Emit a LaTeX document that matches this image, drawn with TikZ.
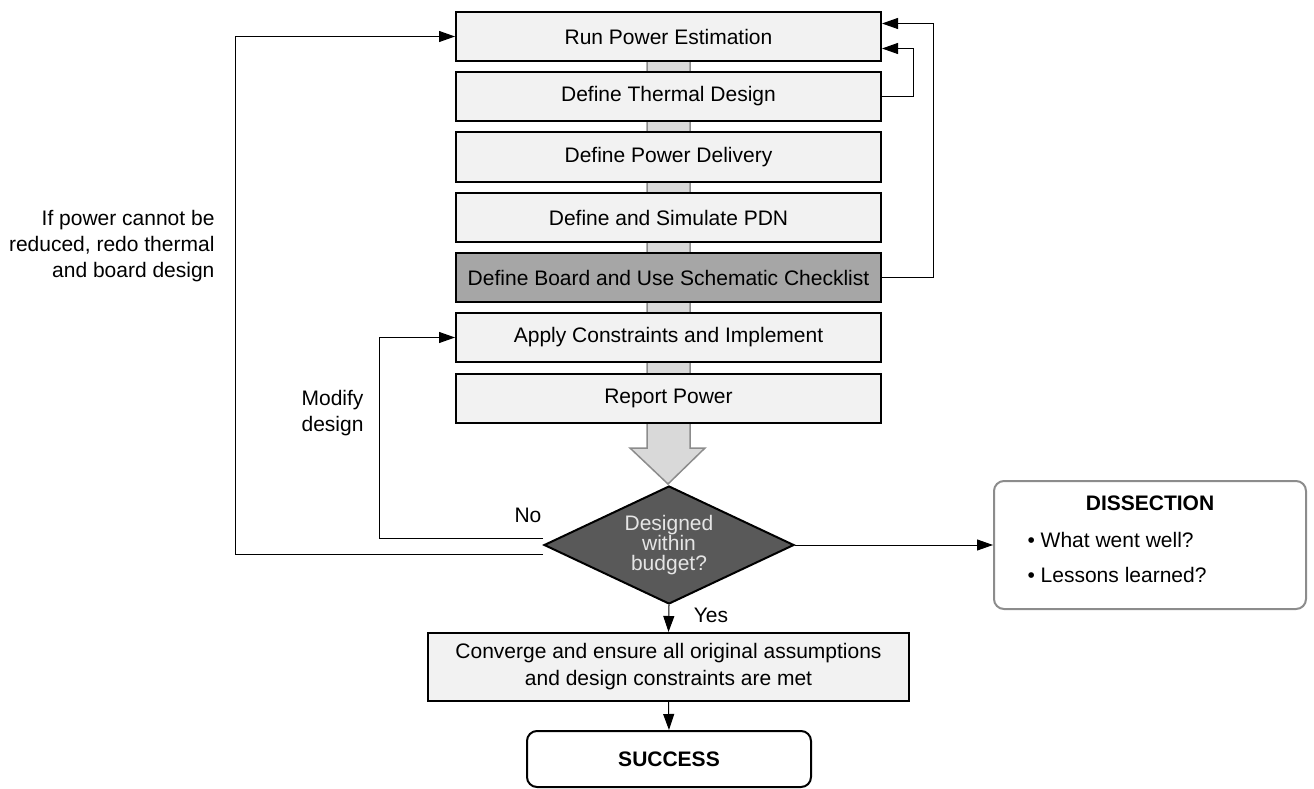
\documentclass[tikz,border=0pt]{standalone}
\usepackage{fontspec}
\setmainfont{Liberation Sans}
\usetikzlibrary{shapes.geometric,arrows.meta,positioning}

\definecolor{boxfill}{HTML}{F2F2F2}
\definecolor{boardfill}{HTML}{A6A6A6}
\definecolor{decfill}{HTML}{595959}
\definecolor{shaftfill}{HTML}{D9D9D9}
\definecolor{shaftline}{HTML}{8C8C8C}
\definecolor{notefill}{HTML}{FFFFFF}

\tikzset{
    stepbox/.style={draw, line width=2pt, fill=boxfill, minimum width=425pt, minimum height=49pt, inner sep=0pt},
    flow/.style={line width=1pt, -{Triangle[length=16pt,width=11pt]}},
    txt/.style={font=\fontsize{21}{26}\selectfont},
}

\begin{document}
\begin{tikzpicture}[x=1pt,y=-1pt,txt]
    \useasboundingbox (0,0) rectangle (1314,789);

    \draw[fill=shaftfill, draw=shaftline, line width=1.5pt]
        (647,55) -- (647,448) -- (630,448) -- (668,484) -- (705,448) -- (690,448) -- (690,55) -- cycle;

    \node[stepbox]                  (est)    at (668.5,36.5)  {Run Power Estimation};
    \node[stepbox]                  (therm)  at (668.5,96.5)  {Define Thermal Design};
    \node[stepbox]                  (deliv)  at (668.5,157)   {Define Power Delivery};
    \node[stepbox]                  (pdn)    at (668.5,217.5) {Define and Simulate PDN};
    \node[stepbox, fill=boardfill]  (board)  at (668.5,277.5) {Define Board and Use Schematic Checklist};
    \node[stepbox]                  (impl)   at (668.5,337.5) {Apply Constraints and Implement};
    \node[stepbox]                  (report) at (668.5,398.5) {Report Power};

    \node[diamond, draw, line width=2pt, fill=decfill, text=white!90!black, aspect=2.1,
          minimum width=250pt, minimum height=118pt, inner sep=0pt, align=center,
          font=\fontsize{21}{20}\selectfont] (budget) at (669,545) {Designed\\within\\budget?};

    \node[stepbox, minimum width=481pt, minimum height=68pt, align=center,
          font=\fontsize{21}{27}\selectfont] (conv) at (668.5,667)
          {Converge and ensure all original assumptions\\and design constraints are met};
    \node[draw, line width=2pt, rounded corners=10pt, minimum width=284pt, minimum height=56pt,
          font=\fontsize{21}{26}\selectfont\bfseries] (done) at (669,759) {SUCCESS};

    \node[draw=shaftline, line width=2pt, rounded corners=10pt, fill=notefill,
          minimum width=312pt, minimum height=128pt] (dissect) at (1150,545) {};
    \node[font=\fontsize{21}{26}\selectfont\bfseries] (dtitle) at (1150,503) {DISSECTION};
    \node[anchor=west, align=left, font=\fontsize{21}{35}\selectfont] (dlist) at (1024,557)
          {\textbullet\ What went well?\\\textbullet\ Lessons learned?};

    \draw[flow] (therm.east) -- ++(31,0) |- ([yshift=-12pt]est.east);
    \draw[flow] (board.east) -- ++(51,0) |- ([yshift=13pt]est.east);

    \draw[flow] ([yshift=-9pt]budget.west) -- ++(-308,0) |- (est.west);
    \draw[flow] ([yshift=7pt]budget.west)  -- ++(-164,0) |- (impl.west);
    \draw[flow] (budget.east)  -- (dissect.west);
    \draw[flow] (budget.south) -- (conv.north);
    \draw[flow] (conv.south)   -- (done.north);

    \node (nolbl)  at (528,515) {No};
    \node (yeslbl) at (711,615) {Yes};
    \node[anchor=east, align=right] (redo)   at (218,246) {If power cannot be\\reduced, redo thermal\\and board design};
    \node[anchor=east, align=right] (modify) at (367,413) {Modify\\design};
\end{tikzpicture}
\end{document}
